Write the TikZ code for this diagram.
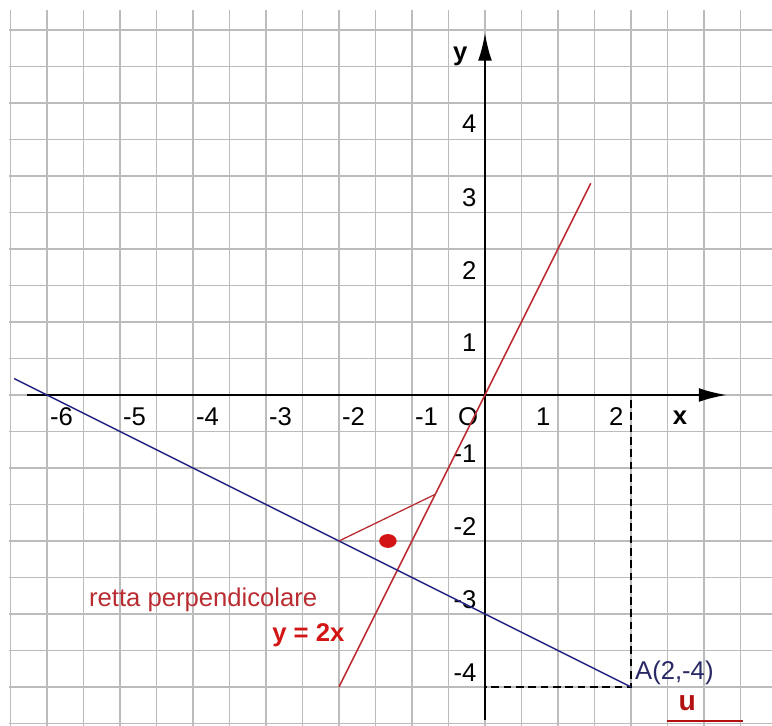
\documentclass[tikz,border=0pt]{standalone}
\usepackage{fontspec}
\setmainfont{Liberation Sans}
\usetikzlibrary{arrows.meta}
\definecolor{gridgray}{RGB}{188,188,188}
\definecolor{retta}{RGB}{185,45,50}
\definecolor{blu}{RGB}{35,35,130}
\definecolor{rosso}{RGB}{210,20,20}
\definecolor{scuro}{RGB}{40,40,100}
\tikzset{
    axis/.style={line width=0.8pt,-{Latex[length=0.38cm,width=0.19cm]}},
    lbl/.style={inner sep=0pt,font=\fontsize{10}{12}\selectfont},
    tratto/.style={line width=0.7pt,dash pattern=on 3pt off 1.8pt}
}
\begin{document}
\begin{tikzpicture}
    \useasboundingbox (-6.644,-4.534) rectangle (3.932,5.411);
    \draw[gridgray,line width=0.6pt,step=0.5] (-6.52,-4.534) grid (3.932,5.27);
    \draw[axis] (-6.27,0) -- (3.31,0);
    \draw[axis] (0,-4.45) -- (0,4.96);
    \node[lbl,font=\bfseries] (lx) at (2.67,-0.31) {x};
    \node[lbl,font=\bfseries] (ly) at (-0.34,4.64) {y};
    % numeri sugli assi
    \foreach \n [count=\i] in {-6,...,-1}
        \node[lbl] (xn\i) at (\n+0.2,-0.3) {\n};
    \foreach \n in {1,2}
        \node[lbl] (xp\n) at (\n-0.2,-0.3) {\n};
    \node[lbl] (orig) at (-0.23,-0.3) {O};
    \foreach \n in {1,...,4}
        \node[lbl,anchor=east] (yp\n) at (-0.11,\n-0.29) {\n};
    \foreach \n [count=\i] in {-1,...,-4}
        \node[lbl,anchor=east] (yn\i) at (-0.11,\n+0.2) {\n};
    \coordinate (A) at (2,-4);
    \coordinate (Ax) at (2,-0.07);
    \coordinate (Ay) at (0,-4);
    \draw[tratto] (Ax) -- (A) -- (Ay);
    % rette
    \draw[retta,line width=0.6pt] (-2,-4) -- (1.45,2.9);
    \draw[blu,line width=0.6pt] (-6.45,0.225) -- (A);
    \draw[retta,line width=0.5pt] (-2,-2) -- (-0.68,-1.36);
    \fill[rosso] (-1.33,-2.0) ellipse (0.12 and 0.095);
    \node[lbl,text=scuro,anchor=west] (nA) at (2.05,-3.81) {A(2,-4)};
    \node[lbl,text=retta] (perp) at (-3.86,-2.81) {retta perpendicolare};
    \node[lbl,text=rosso,font=\bfseries] (eq) at (-2.42,-3.29) {y = 2x};
    \node[lbl,text=rosso!85!black,font=\bfseries\fontsize{11}{13}\selectfont] (u) at (2.77,-4.22) {u};
    \draw[rosso!85!black,line width=0.8pt] (2.5,-4.47) -- (3.53,-4.47);
\end{tikzpicture}
\end{document}
